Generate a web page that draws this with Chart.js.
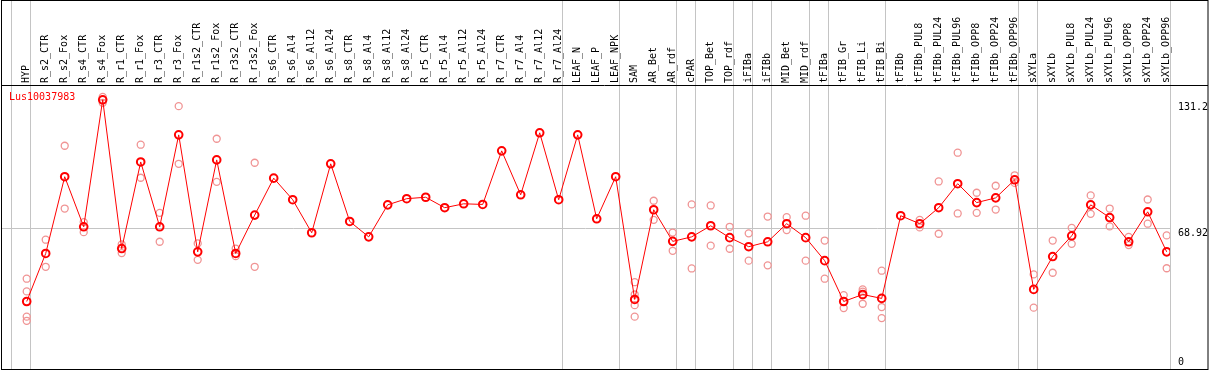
<!DOCTYPE html>
<html>
<head>
<meta charset="utf-8">
<script src="https://cdn.jsdelivr.net/npm/chart.js@4/dist/chart.umd.min.js"></script>
<style>
  html, body { margin: 0; padding: 0; background: #fff; }
  #chart { display: block; }
</style>
</head>
<body>
<canvas id="chart" width="1209" height="370"></canvas>
<script>
const geneName = 'Lus10037983';

const categories = [
    'HYP',
    'R_s2_CTR', 'R_s2_Fox', 'R_s4_CTR', 'R_s4_Fox', 'R_r1_CTR', 'R_r1_Fox', 'R_r3_CTR', 'R_r3_Fox',
    'R_r1s2_CTR', 'R_r1s2_Fox', 'R_r3s2_CTR', 'R_r3s2_Fox',
    'R_s6_CTR', 'R_s6_Al4', 'R_s6_Al12', 'R_s6_Al24', 'R_s8_CTR', 'R_s8_Al4', 'R_s8_Al12', 'R_s8_Al24',
    'R_r5_CTR', 'R_r5_Al4', 'R_r5_Al12', 'R_r5_Al24', 'R_r7_CTR', 'R_r7_Al4', 'R_r7_Al12', 'R_r7_Al24',
    'LEAF_N', 'LEAF_P', 'LEAF_NPK',
    'SAM', 'AR_Bet', 'AR_rdf',
    'cPAR',
    'TOP_Bet', 'TOP_rdf',
    'iFIBa',
    'iFIBb',
    'MID_Bet', 'MID_rdf',
    'tFIBa',
    'tFIB_Gr', 'tFIB_Li', 'tFIB_Bi',
    'tFIBb', 'tFIBb_PUL8', 'tFIBb_PUL24', 'tFIBb_PUL96', 'tFIBb_OPP8', 'tFIBb_OPP24', 'tFIBb_OPP96',
    'sXYLa',
    'sXYLb', 'sXYLb_PUL8', 'sXYLb_PUL24', 'sXYLb_PUL96', 'sXYLb_OPP8', 'sXYLb_OPP24', 'sXYLb_OPP96'
];

// index of the first category of each group (61 = end)
const groupStarts = [0, 1, 29, 32, 35, 36, 38, 39, 40, 42, 43, 46, 53, 54, 61];

const means = [
    32.9,
    56.3, 93.7, 69.3, 131.2, 58.7, 100.9, 69.3, 114.1,
    57.1, 101.9, 56.3, 75.0,
    93.0, 82.5, 66.4, 100.0, 71.9, 64.4, 80.0, 83.0,
    83.7, 78.6, 80.5, 80.2, 106.3, 84.9, 115.1, 82.5,
    114.1, 73.2, 93.7,
    33.9, 77.6, 62.2,
    64.4,
    69.8, 64.0,
    59.6,
    62.0,
    70.8, 64.0,
    52.8,
    32.9, 36.3, 34.4,
    74.7, 70.8, 78.6, 90.3, 81.1, 83.4, 92.2,
    38.8,
    54.8, 64.9, 80.0, 73.8, 62.0, 76.6, 57.1
];

const repA = [
    44.0,
    63.0, 108.8, 71.6, 132.6, 60.7, 109.3, 76.1, 128.1,
    61.2, 112.2, 58.7, 100.5,
    null, null, null, null, null, null, null, null,
    null, null, null, null, null, null, null, null,
    null, null, null,
    42.3, 82.0, 66.5,
    80.2,
    79.7, 69.3,
    66.1,
    74.3,
    74.0, 74.7,
    62.6,
    36.0, 38.8, 47.9,
    null, 72.7, 91.4, 105.4, 85.9, 89.3, 94.4,
    46.1,
    62.6, 68.8, 84.6, 78.2, 64.4, 82.6, 65.1
];

const repB = [
    37.8,
    49.8, 78.2, 66.7, 129.7, 56.5, 93.2, 62.0, 100.0,
    53.2, 91.2, 55.0, 49.8,
    null, null, null, null, null, null, null, null,
    null, null, null, null, null, null, null, null,
    null, null, null,
    36.3, 72.7, 57.6,
    49.0,
    60.1, 58.6,
    52.8,
    50.5,
    67.7, 52.8,
    44.0,
    29.7, 37.7, 30.2,
    null, 69.0, 65.9, 75.8, 76.1, 77.7, 90.7,
    29.9,
    46.9, 61.0, 75.6, 69.5, 60.4, 70.8, 49.1
];

const repC = [
    25.5,
    null, null, null, null, null, null, null, null,
    null, null, null, null,
    null, null, null, null, null, null, null, null,
    null, null, null, null, null, null, null, null,
    null, null, null,
    31.1, null, null,
    null,
    null, null,
    null,
    null,
    null, null,
    null,
    null, 31.8, 24.8,
    null, null, null, null, null, null, null,
    null,
    null, null, null, null, null, null, null
];

const repD = [
    23.5,
    null, null, null, null, null, null, null, null,
    null, null, null, null,
    null, null, null, null, null, null, null, null,
    null, null, null, null, null, null, null, null,
    null, null, null,
    25.5, null, null,
    null,
    null, null,
    null,
    null,
    null, null,
    null,
    null, null, null,
    null, null, null, null, null, null, null,
    null,
    null, null, null, null, null, null, null
];

const yTicks = [0, 68.92, 131.2];
const yTickOffsets = [-7, 6, 8];   // label shift from the tick, px
const refLine = 68.92;

const toPoints = arr => arr.map((v, i) => ({ x: i, y: v }));
const MONO = '"DejaVu Sans Mono", "Liberation Mono", monospace';

function repSet(arr) {
    return {
        data: toPoints(arr),
        showLine: false,
        pointRadius: 3.5,
        pointBorderWidth: 1.3,
        pointBorderColor: '#f09494',
        pointBackgroundColor: 'rgba(0,0,0,0)'
    };
}

const framePlugin = {
    id: 'frame',
    beforeDraw(chart) {
        const { ctx, chartArea, scales } = chart;
        const x = scales.x, y = scales.y;
        ctx.save();
        ctx.strokeStyle = '#c4c4c4';
        ctx.lineWidth = 1;
        // group separators across the whole height
        groupStarts.forEach(k => {
            const px = Math.round(x.getPixelForValue(k - 0.842)) + 0.5;
            ctx.beginPath();
            ctx.moveTo(px, 0);
            ctx.lineTo(px, chartArea.bottom);
            ctx.stroke();
        });
        const py = Math.round(y.getPixelForValue(refLine)) + 0.5;
        ctx.beginPath();
        ctx.moveTo(chartArea.left, py);
        ctx.lineTo(chartArea.right, py);
        ctx.stroke();
        ctx.restore();
    },
    afterDraw(chart) {
        const { ctx, chartArea, scales, width } = chart;
        const y = scales.y;
        ctx.save();
        ctx.strokeStyle = '#000';
        ctx.lineWidth = 1;
        ctx.strokeRect(1.5, 0.5, width - 2.5, chartArea.bottom);
        ctx.beginPath();
        ctx.moveTo(1, chartArea.top + 0.5);
        ctx.lineTo(width - 1, chartArea.top + 0.5);
        ctx.stroke();

        ctx.font = '10px ' + MONO;
        ctx.fillStyle = '#000';
        ctx.textAlign = 'left';
        ctx.textBaseline = 'middle';
        yTicks.forEach((v, i) => {
            const py = y.getPixelForValue(v);
            ctx.fillText(String(v), chartArea.right + 8, py + yTickOffsets[i]);
        });

        ctx.fillStyle = '#ff0000';
        ctx.fillText(geneName, 9, chartArea.top + 12);
        ctx.restore();
    }
};

new Chart(document.getElementById('chart'), {
    type: 'line',
    data: {
        datasets: [
            {
                data: toPoints(means),
                borderColor: '#ff0000',
                borderWidth: 1,
                pointRadius: 3.8,
                pointBorderWidth: 2,
                pointBorderColor: '#ff0000',
                pointBackgroundColor: 'rgba(0,0,0,0)'
            },
            repSet(repA),
            repSet(repB),
            repSet(repC),
            repSet(repD)
        ]
    },
    options: {
        responsive: false,
        animation: false,
        devicePixelRatio: 1,
        layout: { autoPadding: false, padding: { left: 1, right: 39, top: 0, bottom: 1 } },
        plugins: {
            legend: { display: false },
            tooltip: { enabled: false }
        },
        scales: {
            x: {
                type: 'linear',
                position: 'top',
                min: -1.353,
                max: 60.174,
                grid: { display: false, drawTicks: false },
                border: { display: false },
                afterBuildTicks: scale => {
                    scale.ticks = categories.map((c, i) => ({ value: i }));
                },
                afterFit: scale => { scale.height = 85; },
                ticks: {
                    autoSkip: false,
                    minRotation: 90,
                    maxRotation: 90,
                    padding: 2,
                    labelOffset: 12,
                    color: '#000',
                    font: { family: MONO, size: 10 },
                    callback: v => categories[v] || ''
                }
            },
            y: {
                display: false,
                min: 0,
                max: 138.4
            }
        }
    },
    plugins: [framePlugin]
});
</script>
</body>
</html>
